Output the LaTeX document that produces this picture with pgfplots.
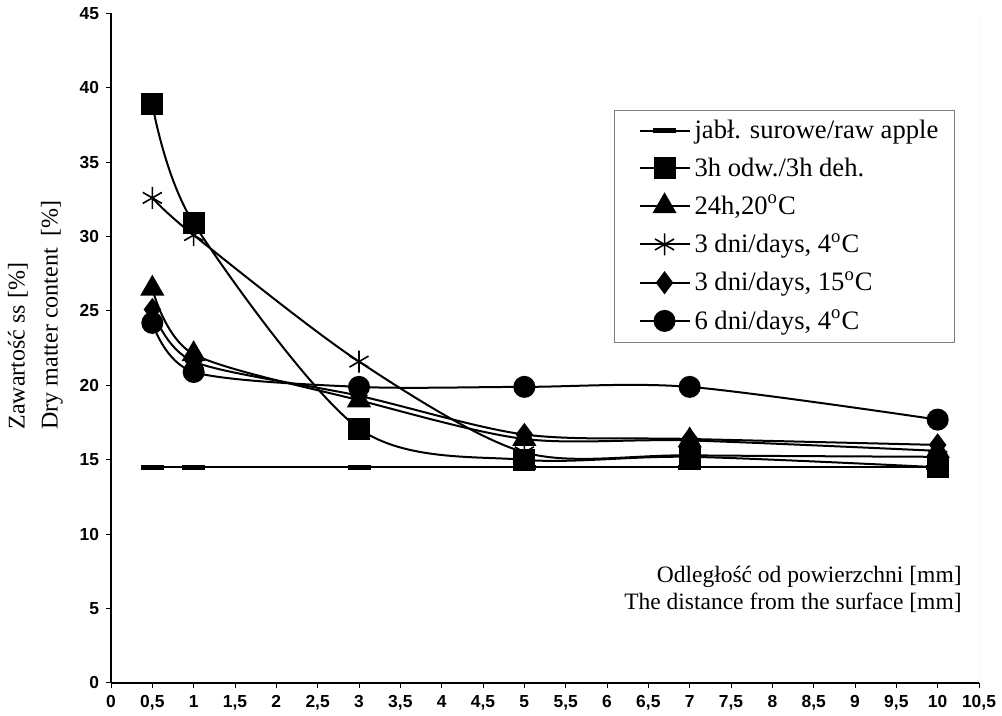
\documentclass[border=0pt]{standalone}
\usepackage{fontspec}
\setmainfont{Liberation Serif}
\newfontfamily\tickfont{Liberation Sans}
\usepackage{pgfplots}
\pgfplotsset{compat=1.18}
\begin{document}
\begin{tikzpicture}
\useasboundingbox (-55.5pt,-16.5pt) rectangle (445.5pt,341.5pt);
\begin{axis}[
  at={(0pt,0pt)}, anchor=south west,
  scale only axis, width=434pt, height=334.8pt,
  xmin=0, xmax=10.5, ymin=0, ymax=45,
  xtick={0,0.5,...,10.5}, ytick={0,5,...,45},
  axis x line*=bottom, axis y line*=left,
  axis line style={line width=0.8pt},
  tick align=outside, major tick length=2.5pt,
  tick style={black, line width=0.5pt},
  ticklabel style={font=\tickfont\bfseries\fontsize{8.7}{10}\selectfont},
  /pgf/number format/use comma,
  /pgf/number format/assume math mode=true,
  legend style={at={(0.972,0.856)}, anchor=north east, draw=gray, line width=0.4pt,
    font=\fontsize{13.3}{16}\selectfont, row sep=4pt, inner xsep=6pt, inner ysep=3pt},
  legend cell align=left,
  legend image code/.code={\path (-6pt,0pt); \draw[mark repeat=2,mark phase=2,#1] plot coordinates {(0pt,0pt) (12.5pt,0pt) (25pt,0pt)};},
  every axis plot/.append style={black, line width=1pt},
]
\addplot[mark=-, mark size=5.75pt, mark options={line width=2.5pt}] coordinates {(0.5,14.5)(1,14.5)(3,14.5)(5,14.5)(7,14.5)(10,14.5)};
\addlegendentry{jabł. surowe/raw apple}
\addplot[smooth, mark=square*, mark size=5pt] coordinates {(0.5,38.9)(1,30.9)(3,17.1)(5,15.0)(7,15.2)(10,14.5)};
\addlegendentry{3h odw./3h deh.}
\addplot[smooth, mark=triangle*, mark size=6pt] coordinates {(0.5,26.5)(1,22.1)(3,19.0)(5,16.4)(7,16.3)(10,15.6)};
\addlegendentry{24h,20\textsuperscript{o}C}
\addplot[smooth, mark=asterisk, mark size=5.5pt, mark options={line width=0.8pt}] coordinates {(0.5,32.6)(1,30.1)(3,21.6)(5,15.5)(7,15.3)(10,15.2)};
\addlegendentry{3 dni/days, 4\textsuperscript{o}C}
\addplot[smooth, mark=diamond*, mark size=5pt] coordinates {(0.5,25.1)(1,21.6)(3,19.3)(5,16.7)(7,16.4)(10,16.0)};
\addlegendentry{3 dni/days, 15\textsuperscript{o}C}
\addplot[smooth, mark=*, mark size=5pt] coordinates {(0.5,24.2)(1,20.9)(3,19.9)(5,19.9)(7,19.9)(10,17.7)};
\addlegendentry{6 dni/days, 4\textsuperscript{o}C}
\draw[gray, densely dotted, line width=0.5pt] (axis cs:10.5,0) -- (axis cs:10.5,45);
\end{axis}
\node[rotate=90, anchor=west, inner sep=0pt, font=\fontsize{12}{14}\selectfont] at (-46.5pt,126.5pt) {Zawartość ss [\%]};
\node[rotate=90, anchor=west, inner sep=0pt, font=\fontsize{12}{14}\selectfont] at (-29.5pt,126.5pt) {Dry matter content\ \ [\%]};
\node[anchor=base east, inner sep=0pt, font=\fontsize{11.75}{14}\selectfont] at (425.5pt,50pt) {Odległość od powierzchni [mm]};
\node[anchor=base east, inner sep=0pt, font=\fontsize{11.75}{14}\selectfont] at (425.5pt,36.5pt) {The distance from the surface [mm]};
\end{tikzpicture}
\end{document}
